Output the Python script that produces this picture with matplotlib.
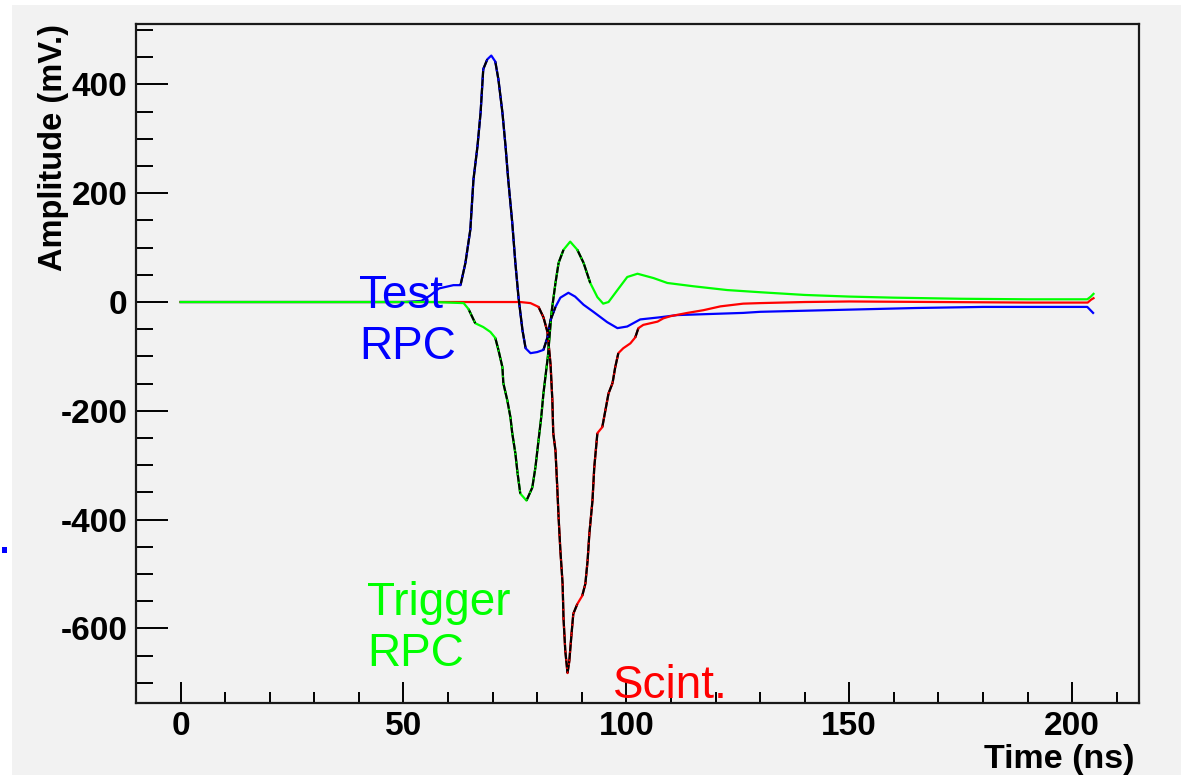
import numpy as np
import matplotlib
matplotlib.use("Agg")
import matplotlib.pyplot as plt
from matplotlib.collections import LineCollection
from matplotlib.patches import Rectangle

# scope traces: time in ns, amplitude in mV
t_test = [0, 50, 54, 56, 58, 61.2, 62.8, 63.9, 65.0, 65.7, 66.6, 67.3, 67.9, 68.8,
          69.7, 70.6, 71.3, 72.2, 72.9, 73.5, 74.4, 75.1, 75.8, 76.7, 77.4, 78.5,
          80.0, 81.4, 82.3, 83.0, 84.1, 85.2, 87.0, 88.5, 90.4, 92.6, 95.7, 98.0,
          100.2, 103.1, 107.6, 111.4, 118.8, 126.2, 130, 140, 150, 165, 180, 195,
          203.4, 204.7]
v_test = [0, 0, 2, 12, 25, 31, 31, 72, 133, 225, 286, 348, 428, 446,
          453, 442, 409, 348, 286, 225, 146, 72, 9, -52, -85, -94,
          -92, -88, -65, -33, -9, 8, 17, 10, -5, -18, -37, -48,
          -45, -32, -28, -24, -22, -20, -18, -16, -14, -11, -9, -9,
          -9, -20]

t_trig = [0, 56.7, 63.5, 64.6, 65.0, 66.1, 67.9, 69.5, 70.6, 71.3, 72.2, 72.4,
          73.3, 74.0, 74.4, 75.1, 75.6, 76.2, 77.6, 78.9, 79.6, 80.3, 80.9, 81.4,
          82.1, 82.4, 83.2, 84.1, 84.8, 85.9, 87.4, 89.0, 90.4, 91.9, 93.5, 94.8,
          96.0, 98.0, 100.2, 102.5, 106.1, 109.2, 115.0, 122.6, 130, 140, 150,
          160, 175, 190, 203.4, 204.2, 204.8]
v_trig = [0, 0, -2, -13, -20, -39, -46, -55, -66, -88, -120, -149,
          -181, -212, -241, -278, -315, -352, -365, -341, -304, -254, -212, -168,
          -120, -100, -20, 35, 72, 96, 111, 96, 72, 35, 9, -3,
          0, 22, 46, 52, 44, 35, 29, 22, 18, 13, 10,
          8, 6, 5, 5, 10, 15]

t_scint = [0, 76.2, 78.5, 80.3, 81.4, 82.3, 83.0, 83.4, 83.6, 84.1, 84.5, 84.8,
           85.2, 85.7, 85.9, 86.3, 86.8, 87.2, 87.7, 88.1, 89.0, 90.1, 90.8, 91.3,
           91.7, 92.4, 92.8, 93.5, 94.6, 95.3, 96.0, 96.9, 97.5, 98.2, 99.3, 100.9,
           102.0, 102.7, 103.8, 105.4, 107.0, 108.3, 109.9, 113.7, 117.3, 121.1,
           126.2, 130, 140, 150, 170, 190, 203.5, 204.2, 204.8]
v_scint = [0, 0, -2, -9, -28, -55, -115, -181, -241, -273, -341, -396,
           -457, -518, -581, -641, -682, -660, -610, -573, -555, -540, -518, -476,
           -426, -365, -304, -241, -230, -199, -168, -149, -120, -94, -85, -76,
           -65, -48, -42, -39, -36, -30, -26, -20, -15, -8,
           -3, -2, 0, 1, 0, -1, -1, 4, 7]

plt.rcParams['font.family'] = ['Liberation Sans', 'DejaVu Sans']
plt.rcParams['axes.unicode_minus'] = False

W, H = 1181, 775
fig = plt.figure(figsize=(W / 100, H / 100), dpi=100, facecolor='white')
# grey canvas with a thin white margin at top and left, plus the stray blue dot
fig.patches.append(Rectangle((12 / W, 0), 1, 1 - 5 / H, transform=fig.transFigure,
                             facecolor='#f2f2f2', edgecolor='none', zorder=-10))
fig.patches.append(Rectangle((2 / W, 1 - 553 / H), 5 / W, 6 / H, transform=fig.transFigure,
                             facecolor='#0000ff', edgecolor='none'))

ax = fig.add_axes([136 / W, 1 - 703 / H, 1003 / W, 679 / H])
ax.set_facecolor('#f2f2f2')
ax.set_xlim(-10, 215)
ax.set_ylim(-737, 511)


def draw_trace(t, v, color):
    ax.plot(t, v, color=color, lw=1.6, zorder=3)
    xy = np.column_stack([t, v])
    pix = ax.transData.transform(xy)
    d = np.diff(pix, axis=0)
    steep = np.abs(d[:, 1]) > 2 * np.abs(d[:, 0])
    segs = [[xy[i], xy[i + 1]] for i in np.where(steep)[0]]
    # ROOT look: black polyline with coloured markers on the steep parts
    ax.add_collection(LineCollection(segs, colors='black', linewidths=1.6, zorder=4))
    ax.add_collection(LineCollection(segs, colors=color, linewidths=1.2,
                                     linestyles=[(0, (1, 4))], zorder=5))


draw_trace(t_test, v_test, '#0000ff')
draw_trace(t_scint, v_scint, '#ff0000')
draw_trace(t_trig, v_trig, '#00ff00')

ax.set_xticks([0, 50, 100, 150, 200])
ax.set_xticks(np.arange(-10, 215, 10), minor=True)
ax.set_yticks([-600, -400, -200, 0, 200, 400])
ax.set_yticks(np.arange(-700, 511, 50), minor=True)

ax.tick_params(axis='y', which='major', direction='in', length=23, width=1.4,
               pad=6, labelsize=24)
ax.tick_params(axis='y', which='minor', direction='in', length=12, width=1.4)
ax.tick_params(axis='x', which='major', direction='in', length=15, width=1.4,
               pad=6, labelsize=24)
ax.tick_params(axis='x', which='minor', direction='in', length=8, width=1.4)
for lab in ax.get_xticklabels() + ax.get_yticklabels():
    lab.set_fontweight('bold')

for sp in ax.spines.values():
    sp.set_linewidth(1.6)
    sp.set_color('#1a1a1a')

ax.set_ylabel('Amplitude (mV.)', fontsize=23.5, fontweight='bold', loc='top')
ax.yaxis.set_label_coords(-0.067, 1.0)
ax.set_xlabel('Time (ns)', fontsize=24.5, fontweight='bold', loc='right')
ax.xaxis.set_label_coords(0.996, -0.060)

ax.text(40, -105, 'Test\nRPC', color='#0000ff', fontsize=33, ha='left',
        va='baseline', linespacing=1.2, zorder=6)
ax.text(41.9, -669, 'Trigger\nRPC', color='#00ff00', fontsize=33, ha='left',
        va='baseline', linespacing=1.2, zorder=6)
ax.text(97.1, -728, 'Scint.', color='#ff0000', fontsize=33, ha='left',
        va='baseline', zorder=6)

fig.savefig('out.png', dpi=100, facecolor=fig.get_facecolor())
